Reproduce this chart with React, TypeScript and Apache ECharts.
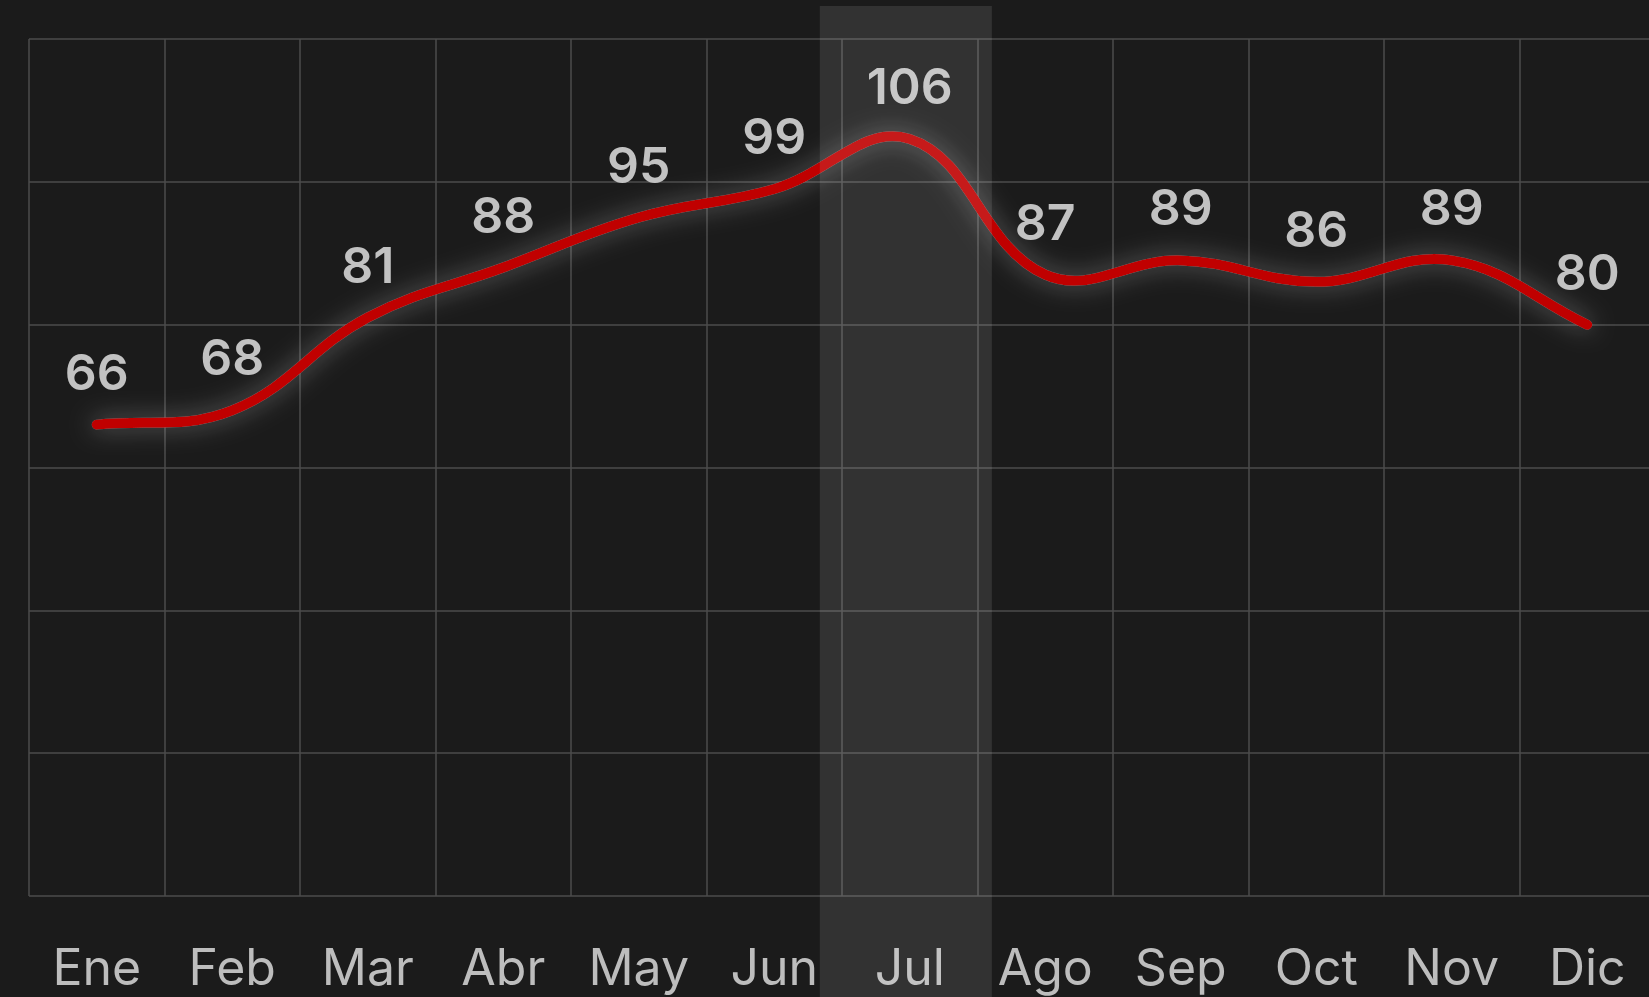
import React, { useEffect, useRef } from "react";
import * as echarts from "echarts";

const months = ["Ene", "Feb", "Mar", "Abr", "May", "Jun", "Jul", "Ago", "Sep", "Oct", "Nov", "Dic"];
const values = [66, 68, 81, 88, 95, 99, 106, 87, 89, 86, 89, 80];
const highlightMonth = "Jul";
const yMin = 0;
const yMax = 120;
const yStep = 20;
const tension = 0.4;

function splinePath(pts: number[][]): string {
  const n = pts.length;
  const cps: { prev: number[]; next: number[] }[] = [];
  for (let i = 0; i < n; i++) {
    const cur = pts[i];
    const prev = i > 0 ? pts[i - 1] : cur;
    const next = i < n - 1 ? pts[i + 1] : cur;
    const d01 = Math.hypot(cur[0] - prev[0], cur[1] - prev[1]);
    const d12 = Math.hypot(next[0] - cur[0], next[1] - cur[1]);
    let s01 = d01 / (d01 + d12);
    let s12 = d12 / (d01 + d12);
    if (!isFinite(s01)) s01 = 0;
    if (!isFinite(s12)) s12 = 0;
    const fa = tension * s01;
    const fb = tension * s12;
    cps.push({
      prev: [cur[0] - fa * (next[0] - prev[0]), cur[1] - fa * (next[1] - prev[1])],
      next: [cur[0] + fb * (next[0] - prev[0]), cur[1] + fb * (next[1] - prev[1])],
    });
  }
  let d = `M${pts[0][0]},${pts[0][1]}`;
  for (let i = 0; i < n - 1; i++) {
    const a = cps[i].next;
    const b = cps[i + 1].prev;
    const p = pts[i + 1];
    d += ` C${a[0]},${a[1]} ${b[0]},${b[1]} ${p[0]},${p[1]}`;
  }
  return d;
}

export default function App() {
  const ref = useRef<HTMLDivElement>(null);
  useEffect(() => {
    if (!ref.current) return;
    const chart = echarts.init(ref.current, null, { renderer: "svg" });
    chart.setOption({
      animation: false,
      backgroundColor: "#1b1b1b",
      grid: {
        left: 29,
        right: -6,
        top: 39,
        bottom: 101,
        containLabel: false,
        outerBoundsMode: "none",
      },
      xAxis: {
        type: "category",
        data: months,
        boundaryGap: true,
        axisLine: { show: false },
        axisTick: { show: false },
        axisLabel: {
          color: "#bdbdbd",
          fontFamily: "Inter, 'Noto Sans', sans-serif",
          fontSize: 50,
          fontWeight: 400,
          margin: 46,
        },
        splitLine: { show: true, lineStyle: { color: "#4d4d4d", width: 1.5 } },
      },
      yAxis: {
        type: "value",
        min: yMin,
        max: yMax,
        interval: yStep,
        axisLine: { show: false },
        axisTick: { show: false },
        axisLabel: { show: false },
        splitLine: { show: true, lineStyle: { color: "#4d4d4d", width: 1.5 } },
      },
      series: [
        {
          type: "custom",
          data: values.map((v, i) => [i, v]),
          encode: { x: 0, y: 1 },
          silent: true,
          z: 3,
          renderItem: (params: any, api: any) => {
            if (params.dataIndex !== 0) return null;
            const pts = values.map((v, i) => api.coord([i, v]));
            return {
              type: "path",
              shape: { pathData: splinePath(pts) },
              style: {
                fill: "none",
                stroke: "#c00000",
                lineWidth: 10,
                lineCap: "round",
                lineJoin: "round",
                shadowBlur: 24,
                shadowColor: "rgba(255,255,255,0.35)",
              },
            };
          },
        },
        {
          type: "line",
          data: values,
          symbol: "circle",
          symbolSize: 2,
          showSymbol: true,
          z: 4,
          itemStyle: { color: "rgba(0,0,0,0)" },
          lineStyle: { opacity: 0, width: 0 },
          label: {
            show: true,
            position: "top",
            distance: 27,
            color: "#c2c2c2",
            fontFamily: "Inter, 'Noto Sans', sans-serif",
            fontSize: 50,
            fontWeight: 600,
          },
        },
      ],
    });
    const idx = months.indexOf(highlightMonth);
    const cx = chart.convertToPixel({ xAxisIndex: 0 }, idx) as number;
    const nx = chart.convertToPixel({ xAxisIndex: 0 }, idx + 1) as number;
    const bw = nx - cx;
    chart.setOption({
      graphic: [
        {
          type: "rect",
          z: 100,
          silent: true,
          shape: { x: cx - 0.664 * bw, y: 6, width: 1.27 * bw, height: 1100 },
          style: { fill: "rgba(255,255,255,0.1)" },
        },
      ],
    });
    return () => chart.dispose();
  }, []);
  return (
    <div
      ref={ref}
      style={{ position: "fixed", left: 0, top: 0, width: 1649, height: 997, background: "#1b1b1b" }}
    />
  );
}
